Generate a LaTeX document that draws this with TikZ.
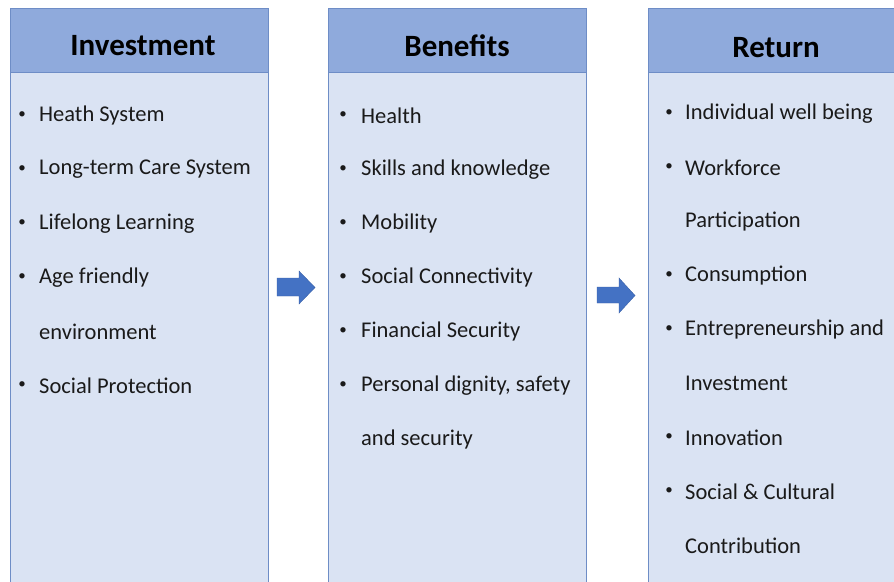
\documentclass[tikz,border=0pt]{standalone}
\usepackage{fontspec}
\setmainfont{Carlito}
\definecolor{hdrfill}{HTML}{8FAADC}
\definecolor{bodyfill}{HTML}{DAE3F3}
\definecolor{edge}{HTML}{6E8DC6}
\definecolor{arrowfill}{HTML}{4472C4}
\definecolor{txt}{HTML}{1A1A1A}
\tikzset{
  hdr/.style={draw=edge, line width=1pt, fill=hdrfill},
  body/.style={draw=edge, line width=1pt, fill=bodyfill},
  title/.style={font=\bfseries\fontsize{31}{36}\selectfont, text=black, inner sep=0pt, yshift=-1pt},
  item/.style={font=\fontsize{22.5}{26}\selectfont, text=txt, anchor=west, inner sep=0pt, yshift=-1.5pt},
  bul/.style={font=\fontsize{15}{18}\selectfont, text=txt, inner sep=0pt, yshift=-1.5pt},
  blockarrow/.style={fill=arrowfill, draw=arrowfill!85!black, line width=0.4pt}
}
\begin{document}
\begin{tikzpicture}[x=1pt,y=-1pt]
\useasboundingbox (0,0) rectangle (894,581);
\clip (0,0) rectangle (894,581);
% boxes
\filldraw[body] (10,72) rectangle (268,600);
\filldraw[hdr] (10,8) rectangle (268,72);
\filldraw[body] (328,72) rectangle (586,600);
\filldraw[hdr] (328,8) rectangle (586,72);
\filldraw[body] (648,72) rectangle (910,600);
\filldraw[hdr] (648,8) rectangle (910,72);
% titles
\node[title] (t1) at (143,45) {Investment};
\node[title] (t2) at (457,45) {Benefits};
\node[title] (t3) at (776,47) {Return};
% Investment items
\foreach \y/\t [count=\i] in {114/Heath System,168/Long-term Care System,222/Lifelong Learning,276/Age friendly,384/Social Protection}{
  \node[bul] (ib\i) at (22,\y) {•};
  \node[item] (it\i) at (39,\y) {\t};
}
\node[item] (it6) at (39,330) {environment};
% Benefits items
\foreach \y/\t [count=\i] in {114/Health,168/Skills and knowledge,222/Mobility,276/Social Connectivity,330/Financial Security,384/{Personal dignity, safety}}{
  \node[bul] (bb\i) at (343,\y) {•};
  \node[item] (bt\i) at (361,\y) {\t};
}
\node[item] (bt7) at (361,438) {and security};
% Return items
\foreach \y/\t [count=\i] in {112/Individual well being,166/Workforce,274/Consumption,328/Entrepreneurship and,436/Innovation,490/Social \& Cultural}{
  \node[bul] (rb\i) at (669,\y) {•};
  \node[item] (rt\i) at (685,\y) {\t};
}
\node[item] (rt7) at (685,220) {Participation};
\node[item] (rt8) at (685,382) {Investment};
\node[item] (rt9) at (685,544) {Contribution};
% block arrows
\filldraw[blockarrow] (277,278) -- (299,278) -- (299,271) -- (315,287.5) -- (299,304) -- (299,296) -- (277,296) -- cycle;
\filldraw[blockarrow] (597,287) -- (619,287) -- (619,278) -- (635,295.5) -- (619,313) -- (619,303) -- (597,303) -- cycle;
\end{tikzpicture}
\end{document}
